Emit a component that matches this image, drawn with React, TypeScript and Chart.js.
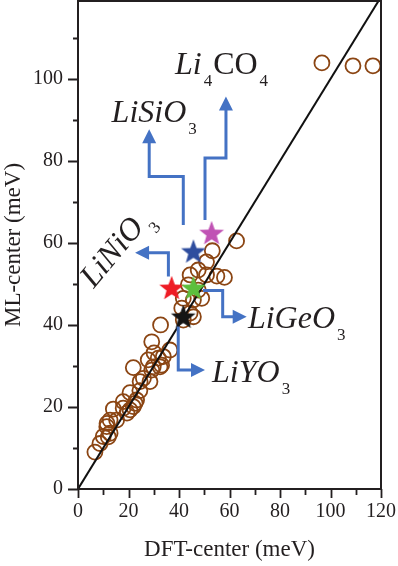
import React, { useEffect, useRef } from "react";
import { Chart, registerables } from "chart.js";

Chart.register(...registerables);

const X_TICKS = [0, 20, 40, 60, 80, 100, 120];
const Y_TICKS = [0, 20, 40, 60, 80, 100];

const DFT = [
  6.7, 8.7, 10.0, 12.0, 12.7, 11.4, 11.5, 12.7, 15.3, 14.0, 17.9, 19.4, 21.9, 20.6, 23.2, 22.6, 20.6, 17.9,
  24.5, 24.6, 25.9, 28.5, 21.9, 29.2, 29.8, 32.5, 33.1, 27.8, 31.8, 30.1, 33.8, 36.4, 29.2, 32.7,
  41.7, 45.7, 44.4, 41.1, 41.7, 45.7, 49.0, 47.6, 43.7, 44.4, 47.6, 50.9, 55.0, 58.0, 50.9, 53.2, 62.8,
  96.6, 108.9, 116.8,
];
const ML = [
  9.0, 11.1, 12.8, 12.7, 13.6, 15.2, 16.0, 16.8, 16.8, 19.5, 19.7, 18.5, 20.1, 23.5, 21.7, 20.9, 19.3, 21.3,
  24.0, 26.2, 27.0, 26.2, 29.6, 29.0, 29.8, 29.8, 30.2, 31.5, 31.9, 33.2, 32.3, 33.9, 35.9, 40.0,
  41.2, 42.0, 42.9, 44.1, 46.5, 46.1, 46.5, 48.5, 49.8, 52.2, 53.4, 52.2, 51.9, 51.6, 55.4, 58.1, 60.5,
  103.9, 103.2, 103.2,
];

const STAR_NAMES = ["LiSiO3", "Li4CO4", "LiNiO3", "LiGeO3", "LiYO3"];
const STAR_DFT = [45.7, 52.9, 37.1, 45.7, 41.7];
const STAR_ML = [57.9, 62.4, 49.0, 49.0, 42.0];
const STAR_COLORS = ["#2e4d9e", "#c052b4", "#ee1c25", "#5cbf3d", "#151515"];

// arrow paths (data units), last point is the tip
const ARROWS: number[][][] = [
  [[41.7, 64.4], [41.7, 76.2], [28.2, 76.2], [28.2, 87.7]],
  [[50.3, 65.6], [50.3, 80.7], [58.6, 80.7], [58.6, 95.7]],
  [[35.8, 51.8], [35.8, 57.6], [22.6, 57.6]],
  [[49.5, 48.4], [57.3, 48.4], [57.3, 42.0], [66.8, 42.0]],
  [[39.7, 39.6], [39.7, 29.0], [50.3, 29.0]],
];

type Part = { t: string; it?: boolean; sub?: boolean };
const LABELS: { parts: Part[]; x: number; y: number; rot: number }[] = [
  { parts: [{ t: "LiSiO", it: true }, { t: "3", sub: true }], x: 13.3, y: 89.6, rot: 0 },
  { parts: [{ t: "Li", it: true }, { t: "4", sub: true }, { t: "CO" }, { t: "4", sub: true }], x: 38.4, y: 101.2, rot: 0 },
  { parts: [{ t: "LiNiO", it: true }, { t: "3", sub: true }], x: 6.2, y: 48.8, rot: -50 },
  { parts: [{ t: "LiGeO", it: true }, { t: "3", sub: true }], x: 67.3, y: 39.3, rot: 0 },
  { parts: [{ t: "LiYO", it: true }, { t: "3", sub: true }], x: 53.1, y: 26.1, rot: 0 },
];

const INK = "#231f20";
const BLUE = "#4472c4";
const BROWN = "#8b4513";
const FONT = "'Liberation Serif', 'Times New Roman', serif";

function makeStar(color: string): HTMLCanvasElement {
  const c = document.createElement("canvas");
  c.width = 28;
  c.height = 28;
  const g = c.getContext("2d")!;
  const R = 13, r = 5.4;
  g.beginPath();
  for (let i = 0; i < 10; i++) {
    const a = -Math.PI / 2 + (i * Math.PI) / 5;
    const rr = i % 2 === 0 ? R : r;
    const px = 14 + rr * Math.cos(a);
    const py = 14.8 + rr * Math.sin(a);
    if (i === 0) g.moveTo(px, py);
    else g.lineTo(px, py);
  }
  g.closePath();
  g.fillStyle = color;
  g.fill();
  return c;
}

const overlay = {
  id: "overlay",
  afterDatasetsDraw(chart: any) {
    const ctx = chart.ctx as CanvasRenderingContext2D;
    const xs = chart.scales.x;
    const ys = chart.scales.y;
    ctx.save();
    // arrows
    ctx.strokeStyle = BLUE;
    ctx.fillStyle = BLUE;
    ctx.lineWidth = 3;
    ctx.lineJoin = "miter";
    for (const path of ARROWS) {
      const pts = path.map(([a, b]) => [xs.getPixelForValue(a), ys.getPixelForValue(b)]);
      const n = pts.length;
      const [tx, ty] = pts[n - 1];
      const [px, py] = pts[n - 2];
      const len = Math.hypot(tx - px, ty - py);
      const ux = (tx - px) / len, uy = (ty - py) / len;
      const head = 14, half = 7;
      ctx.beginPath();
      ctx.moveTo(pts[0][0], pts[0][1]);
      for (let i = 1; i < n - 1; i++) ctx.lineTo(pts[i][0], pts[i][1]);
      ctx.lineTo(tx - ux * (head - 1), ty - uy * (head - 1));
      ctx.stroke();
      ctx.beginPath();
      ctx.moveTo(tx, ty);
      ctx.lineTo(tx - ux * head - uy * half, ty - uy * head + ux * half);
      ctx.lineTo(tx - ux * head + uy * half, ty - uy * head - ux * half);
      ctx.closePath();
      ctx.fill();
    }
    // labels
    ctx.fillStyle = INK;
    ctx.textBaseline = "alphabetic";
    ctx.textAlign = "left";
    for (const lab of LABELS) {
      ctx.save();
      ctx.translate(xs.getPixelForValue(lab.x), ys.getPixelForValue(lab.y));
      ctx.rotate((lab.rot * Math.PI) / 180);
      let cx = 0;
      for (const p of lab.parts) {
        if (p.sub) {
          ctx.font = `17px ${FONT}`;
          ctx.fillText(p.t, cx + 2, 12.5);
          cx += ctx.measureText(p.t).width + 3;
        } else {
          ctx.font = `${p.it ? "italic " : ""}32px ${FONT}`;
          ctx.fillText(p.t, cx, 0);
          cx += ctx.measureText(p.t).width;
        }
      }
      ctx.restore();
    }
    ctx.restore();
  },
  afterDraw(chart: any) {
    const ctx = chart.ctx as CanvasRenderingContext2D;
    const xs = chart.scales.x;
    const ys = chart.scales.y;
    const { left, right, top, bottom } = chart.chartArea;
    ctx.save();
    ctx.strokeStyle = INK;
    ctx.lineWidth = 2;
    ctx.strokeRect(left, top, right - left, bottom - top);
    ctx.lineWidth = 1.8;
    ctx.beginPath();
    for (let v = 0; v <= 120; v += 10) {
      const px = Math.round(xs.getPixelForValue(v)) + 0.5;
      ctx.moveTo(px, bottom);
      ctx.lineTo(px, bottom + (v % 20 === 0 ? 9 : 6));
    }
    for (let v = 0; v <= 110; v += 10) {
      const py = Math.round(ys.getPixelForValue(v)) + 0.5;
      ctx.moveTo(left, py);
      ctx.lineTo(left - (v % 20 === 0 ? 10 : 5), py);
    }
    ctx.stroke();
    ctx.restore();
  },
};

export default function App() {
  const ref = useRef<HTMLCanvasElement>(null);
  useEffect(() => {
    document.body.style.margin = "0";
    const circles = DFT.map((x, i) => ({ x, y: ML[i] }));
    const stars = STAR_DFT.map((x, i) => ({ x, y: STAR_ML[i] }));
    const starImgs = STAR_COLORS.map(makeStar);
    const chart = new Chart(ref.current!, {
      type: "scatter",
      data: {
        datasets: [
          {
            label: "stars",
            data: stars,
            pointStyle: starImgs as any,
            pointRadius: 13,
            order: 0,
          } as any,
          {
            label: "y=x",
            type: "line",
            data: [{ x: 0, y: 0 }, { x: 120, y: 120 }],
            borderColor: "#111",
            borderWidth: 2,
            pointRadius: 0,
            showLine: true,
            order: 1,
          } as any,
          {
            label: "materials",
            data: circles,
            pointStyle: "circle",
            pointRadius: 7.5,
            borderColor: BROWN,
            borderWidth: 1.8,
            backgroundColor: "rgba(0,0,0,0)",
            order: 2,
          },
        ],
      },
      options: {
        responsive: false,
        animation: false,
        devicePixelRatio: 1,
        layout: { autoPadding: false, padding: { left: 0, top: 1, right: 17, bottom: 0 } },
        plugins: { legend: { display: false }, tooltip: { enabled: false } },
        scales: {
          x: {
            type: "linear",
            min: 0,
            max: 120,
            afterFit: (s: any) => { s.height = 77; s.paddingLeft = 0; s.paddingRight = 0; },
            afterBuildTicks: (s: any) => { s.ticks = X_TICKS.map((v) => ({ value: v })); },
            grid: { display: true, drawOnChartArea: false, drawTicks: true, tickLength: 10, color: "rgba(0,0,0,0)" },
            border: { display: false },
            ticks: { color: INK, font: { family: FONT, size: 20 }, padding: 1, maxRotation: 0 },
            title: { display: true, text: "DFT-center (meV)", color: INK, font: { family: FONT, size: 23 }, padding: { top: 0, bottom: 2 } },
          },
          y: {
            type: "linear",
            min: 0,
            max: 119,
            afterFit: (s: any) => { s.width = 78; s.paddingTop = 0; s.paddingBottom = 0; },
            afterBuildTicks: (s: any) => { s.ticks = Y_TICKS.map((v) => ({ value: v })); },
            grid: { display: true, drawOnChartArea: false, drawTicks: true, tickLength: 10, color: "rgba(0,0,0,0)" },
            border: { display: false },
            ticks: { color: INK, font: { family: FONT, size: 20 }, padding: 5 },
            title: { display: true, text: "ML-center (meV)", color: INK, font: { family: FONT, size: 23 }, padding: { top: 0, bottom: 0 } },
          },
        },
      },
      plugins: [overlay],
    });
    return () => chart.destroy();
  }, []);
  return <canvas ref={ref} width={398} height={566} />;
}
